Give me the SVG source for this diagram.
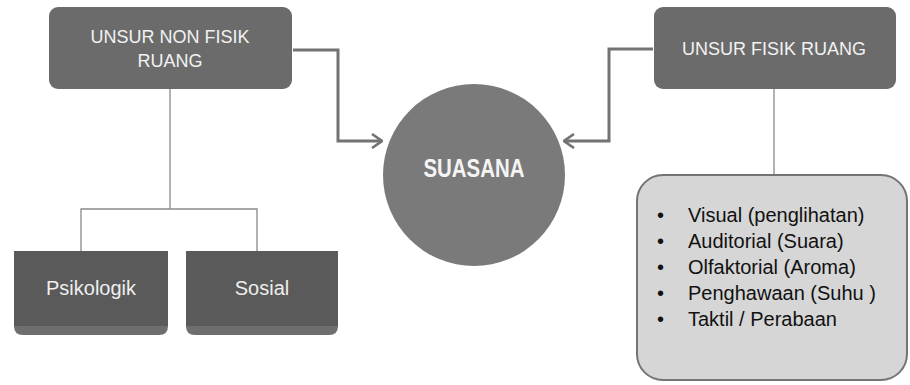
<svg xmlns="http://www.w3.org/2000/svg" width="910" height="385" viewBox="0 0 910 385">
<style>
.hdr{fill:#6b6b6b}
.ht{font-family:"Liberation Sans",Arial,sans-serif;font-size:18px;fill:#f2f2f2;text-anchor:middle}
.bt{font-family:"Liberation Sans",Arial,sans-serif;font-size:20px;fill:#eeeeee;text-anchor:middle}
.li{font-family:"Liberation Sans",Arial,sans-serif;font-size:20px;fill:#111}
.thin{fill:none;stroke:#8a8a8a;stroke-width:1.3}
.arr{fill:none;stroke:#737373;stroke-width:3;marker-end:url(#chev)}
</style>
<defs>
<marker id="chev" viewBox="0 0 12 16" refX="11" refY="8" markerWidth="12" markerHeight="16" markerUnits="userSpaceOnUse" orient="auto">
<path d="M1,1 L11,8 L1,15" fill="none" stroke="#737373" stroke-width="2.6"/>
</marker>
</defs>
<rect width="910" height="385" fill="#fff"/>
<g id="connectors">
<path class="thin" d="M170,89 V209 M81,251 V209 H257 V251"/>
<path class="thin" d="M774,89 V175"/>
<path class="arr" d="M293,50 H338 V141 H382"/>
<path class="arr" d="M653,49 H609 V141 H564"/>
</g>
<g id="non-fisik">
<rect class="hdr" x="49" y="7" width="243" height="82" rx="9"/>
<text class="ht" x="170" y="43">UNSUR NON FISIK</text>
<text class="ht" x="170" y="67">RUANG</text>
</g>
<g id="fisik">
<rect class="hdr" x="654" y="7" width="242" height="82" rx="9"/>
<text class="ht" x="774" y="55">UNSUR FISIK RUANG</text>
</g>
<g id="suasana">
<circle cx="474" cy="175" r="91" fill="#7a7a7a"/>
<text x="474" y="177" font-family="Liberation Sans,Arial,sans-serif" font-weight="bold" font-size="25" fill="#f4f4f4" text-anchor="middle" textLength="101" lengthAdjust="spacingAndGlyphs">SUASANA</text>
</g>
<g id="psikologik">
<path d="M14,251 H168 V326 Q168,335 159,335 H23 Q14,335 14,326 Z" fill="#6e6e6e"/>
<rect x="14" y="251" width="154" height="75" fill="#5a5a5a"/>
<text class="bt" x="91" y="295">Psikologik</text>
</g>
<g id="sosial">
<path d="M186,251 H338 V326 Q338,335 329,335 H195 Q186,335 186,326 Z" fill="#6e6e6e"/>
<rect x="186" y="251" width="152" height="75" fill="#5a5a5a"/>
<text class="bt" x="262" y="295">Sosial</text>
</g>
<g id="list">
<rect x="637" y="175" width="270" height="205" rx="26" fill="#d6d6d6" stroke="#747474" stroke-width="2"/>
<g class="li">
<text x="657" y="222">•</text><text x="688" y="222">Visual (penglihatan)</text>
<text x="657" y="248">•</text><text x="688" y="248">Auditorial (Suara)</text>
<text x="657" y="274">•</text><text x="688" y="274">Olfaktorial (Aroma)</text>
<text x="657" y="300">•</text><text x="688" y="300">Penghawaan (Suhu )</text>
<text x="657" y="326">•</text><text x="688" y="326">Taktil / Perabaan</text>
</g>
</g>
</svg>
